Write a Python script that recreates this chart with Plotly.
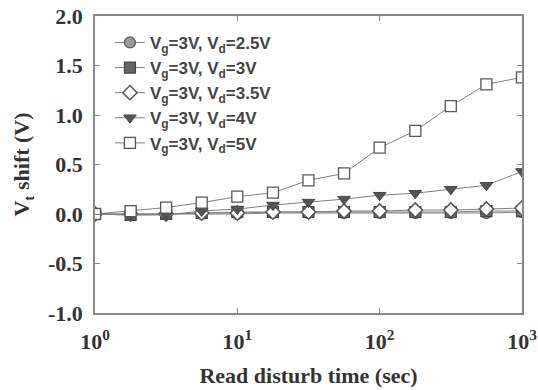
import plotly.graph_objects as go

time_s = [1, 1.78, 3.16, 5.62, 10, 17.8, 31.6, 56.2, 100, 178, 316, 562, 1000]
vd25 = [0, 0, 0, 0, 0, 0.01, 0.01, 0.01, 0.01, 0.01, 0.01, 0.01, 0.02]
vd3 = [0, -0.01, 0, 0.01, 0.02, 0.02, 0.02, 0.02, 0.02, 0.02, 0.02, 0.03, 0.03]
vd35 = [0, 0, 0, 0.01, 0.01, 0.02, 0.02, 0.03, 0.03, 0.04, 0.04, 0.05, 0.06]
vd4 = [0, -0.01, -0.01, 0.03, 0.05, 0.09, 0.12, 0.15, 0.19, 0.21, 0.25, 0.29, 0.43]
vd5 = [0, 0.03, 0.065, 0.115, 0.175, 0.215, 0.34, 0.41, 0.67, 0.84, 1.09, 1.31, 1.38]

names = ["V<sub>g</sub>=3V, V<sub>d</sub>=2.5V", "V<sub>g</sub>=3V, V<sub>d</sub>=3V",
         "V<sub>g</sub>=3V, V<sub>d</sub>=3.5V", "V<sub>g</sub>=3V, V<sub>d</sub>=4V",
         "V<sub>g</sub>=3V, V<sub>d</sub>=5V"]
y_ticks = [-1.0, -0.5, 0.0, 0.5, 1.0, 1.5, 2.0]
y_ticktext = ["-1.0", "-0.5", "0.0", "0.5", "1.0", "1.5", "2.0"]
x_ticks = [1, 10, 100, 1000]
x_ticktext = ["10<sup>0</sup>", "10<sup>1</sup>", "10<sup>2</sup>", "10<sup>3</sup>"]

styles = [
    dict(symbol="circle", color="#9a9a9a", line=dict(color="#555", width=1.2)),
    dict(symbol="square", color="#666666", line=dict(color="#444", width=1.2)),
    dict(symbol="diamond", color="white", line=dict(color="#555", width=1.5)),
    dict(symbol="triangle-down", color="#555555", line=dict(color="#444", width=1)),
    dict(symbol="square", color="white", line=dict(color="#555", width=1.3)),
]
series = [vd25, vd3, vd35, vd4, vd5]

fig = go.Figure()
for name, ys, st in zip(names, series, styles):
    fig.add_trace(go.Scatter(
        x=time_s, y=ys, name=f"<b>{name}</b>", mode="lines+markers",
        line=dict(color="#808080", width=1),
        marker=dict(symbol=st["symbol"], size=11, color=st["color"], line=st["line"]),
    ))

serif = "Liberation Serif"
fig.update_layout(
    width=538, height=390,
    margin=dict(l=95, r=16, t=16, b=77),
    paper_bgcolor="white", plot_bgcolor="white",
    showlegend=True,
    legend=dict(x=0.035, y=0.97, xanchor="left", yanchor="top",
                bgcolor="rgba(0,0,0,0)", tracegroupgap=0,
                font=dict(family="Liberation Sans", size=17, color="#444")),
    xaxis=dict(type="log", range=[0, 3], tickvals=x_ticks, automargin=False,
               ticktext=[f"<b>{t}</b>" for t in x_ticktext],
               showline=True, linecolor="#888", linewidth=1.5, mirror="ticks",
               ticks="inside", ticklen=5, tickcolor="#888", showgrid=False, zeroline=False,
               ticklabelstandoff=8,
               tickfont=dict(family=serif, size=22, color="#333"),
               title=dict(text="<b>Read disturb time (sec)</b>",
                          font=dict(family=serif, size=22, color="#333"), standoff=14)),
    yaxis=dict(range=[-1.0, 2.0], tickvals=y_ticks, automargin=False,
               ticktext=[f"<b>{t}</b>" for t in y_ticktext],
               showline=True, linecolor="#888", linewidth=1.5, mirror="ticks",
               ticks="inside", ticklen=5, tickcolor="#888", showgrid=False, zeroline=False,
               ticklabelstandoff=6,
               tickfont=dict(family=serif, size=22, color="#333"),
               title=dict(text="<b>V<sub>t</sub> shift (V)</b>",
                          font=dict(family=serif, size=22, color="#333"), standoff=12)),
)

fig.write_html("out.html")
